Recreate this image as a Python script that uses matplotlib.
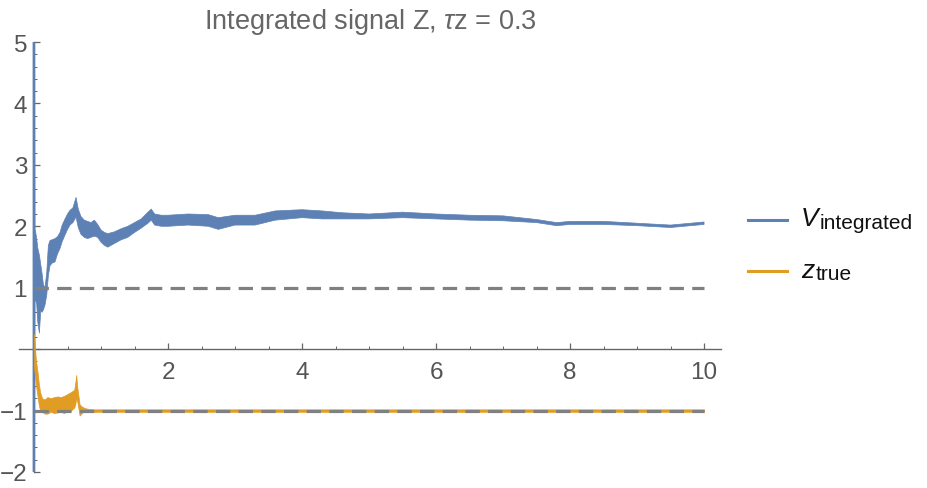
import matplotlib
matplotlib.use("Agg")
import matplotlib.pyplot as plt
from matplotlib.ticker import MultipleLocator, FuncFormatter
from matplotlib.lines import Line2D

plt.rcParams['font.family'] = ['Liberation Sans', 'DejaVu Sans']
plt.rcParams['mathtext.fontset'] = 'custom'
plt.rcParams['mathtext.rm'] = 'Liberation Sans'
plt.rcParams['mathtext.it'] = 'Liberation Sans:italic'

# blue band: V integrated (upper / lower edge of the noisy trace)
blue_t = [-0.016, 0.01, 0.015, 0.025, 0.04, 0.055, 0.08, 0.1, 0.12, 0.14, 0.164,
          0.19, 0.214, 0.239, 0.27, 0.313, 0.35, 0.388, 0.42, 0.463, 0.5, 0.537,
          0.58, 0.627, 0.66, 0.7, 0.75, 0.8, 0.85, 0.9, 0.95, 1.0, 1.05, 1.1,
          1.2, 1.3, 1.4, 1.5, 1.6, 1.7, 1.75, 1.8, 1.9, 2.0, 2.3, 2.6, 2.75, 3.0,
          3.3, 3.6, 4.0, 4.3, 4.6, 5.0, 5.5, 6.0, 6.5, 7.0, 7.5, 7.8, 8.0, 8.5,
          9.0, 9.5, 10.0]
blue_hi = [5.5, 5.5, 1.95, 1.9, 1.8, 1.65, 1.53, 1.38, 1.23, 1.05, 1.0,
           1.25, 1.69, 1.77, 1.78, 1.8, 1.83, 1.9, 2.02, 2.12, 2.2, 2.26,
           2.3, 2.47, 2.28, 2.16, 2.1, 2.08, 2.06, 2.1, 2.03, 1.94, 1.9, 1.88,
           1.91, 1.96, 2.0, 2.06, 2.12, 2.23, 2.28, 2.2, 2.18, 2.18, 2.2, 2.19, 2.14, 2.18,
           2.18, 2.25, 2.27, 2.25, 2.22, 2.2, 2.23, 2.2, 2.18, 2.17, 2.11, 2.06, 2.08, 2.08,
           2.05, 2.02, 2.07]
blue_lo = [-2.5, -2.5, 0.88, 0.8, 0.73, 0.45, 0.26, 0.62, 0.6, 0.64, 0.72,
           0.88, 1.2, 1.36, 1.4, 1.42, 1.55, 1.64, 1.75, 1.86, 1.95, 2.02,
           2.06, 2.15, 1.98, 1.87, 1.82, 1.8, 1.82, 1.84, 1.82, 1.74, 1.69, 1.66,
           1.72, 1.78, 1.82, 1.9, 1.97, 2.05, 2.1, 2.02, 2.0, 2.0, 2.02, 2.0, 1.95, 2.02,
           2.02, 2.1, 2.14, 2.12, 2.12, 2.12, 2.14, 2.12, 2.1, 2.09, 2.06, 2.01, 2.03, 2.03,
           2.01, 1.98, 2.03]

# orange band: z true
orange_t = [0.0, 0.015, 0.03, 0.05, 0.07, 0.09, 0.12, 0.16, 0.2, 0.25, 0.3, 0.35,
            0.4, 0.45, 0.5, 0.55, 0.6, 0.615, 0.63, 0.645, 0.68, 0.72, 0.76, 0.8,
            0.9, 1.0, 10.0]
orange_hi = [0.25, 0.0, -0.2, -0.35, -0.55, -0.7, -0.8, -0.82, -0.78, -0.8, -0.78, -0.77,
             -0.78, -0.76, -0.73, -0.7, -0.66, -0.55, -0.42, -0.62, -0.9, -0.94, -0.96, -0.97,
             -0.98, -0.98, -0.98]
orange_lo = [-0.3, -0.45, -0.6, -0.75, -0.9, -1.0, -1.02, -1.05, -1.05, -1.02, -1.04, -1.03,
             -1.02, -1.04, -1.0, -1.0, -0.95, -0.9, -0.8, -0.85, -1.08, -1.03, -1.02, -1.02,
             -1.02, -1.02, -1.02]

ref_levels = [1, -1]
ref_span = [0, 10]

blue = '#5E81B5'
orange = '#E19C24'
grey = '#666666'

fig = plt.figure(figsize=(9.27, 4.89), dpi=100)
ax = fig.add_axes([19.3 / 927, 16 / 489, 701.5 / 927, 430 / 489])

ax.fill_between(blue_t, blue_lo, blue_hi, color=blue, lw=0.5, zorder=3)
ax.fill_between(orange_t, orange_lo, orange_hi, color=orange, lw=0.5, zorder=3.5)
for lev in ref_levels:
    ax.plot(ref_span, [lev, lev], color='#808080', lw=2.3, dashes=(4.5, 2.6), zorder=4)

ax.set_xlim(-0.22, 10.25)
ax.set_ylim(-2, 5)

ax.spines['left'].set_position(('data', 0))
ax.spines['bottom'].set_position(('data', 0))
ax.spines['right'].set_visible(False)
ax.spines['top'].set_visible(False)
for s in ('left', 'bottom'):
    ax.spines[s].set_color(grey)
    ax.spines[s].set_linewidth(1.0)

ax.xaxis.set_major_locator(MultipleLocator(2))
ax.xaxis.set_minor_locator(MultipleLocator(0.5))
ax.yaxis.set_major_locator(MultipleLocator(1))
ax.yaxis.set_minor_locator(MultipleLocator(0.2))
hide_zero = FuncFormatter(lambda v, p: '' if abs(v) < 1e-9 else ('%d' % v).replace('-', '\u2212'))
ax.xaxis.set_major_formatter(hide_zero)
ax.yaxis.set_major_formatter(hide_zero)
ax.tick_params(which='both', direction='in', colors=grey, labelcolor='#555555', labelsize=17.5)
ax.tick_params(which='major', length=4.5, width=0.9)
ax.tick_params(which='minor', length=2.5, width=0.7)
ax.tick_params(axis='x', pad=8.5)
ax.tick_params(axis='y', pad=5)

ax.set_title(r'Integrated signal Z, $\tau$z = 0.3', color='#666666', fontsize=19.5, pad=10)

# legend, drawn by hand so the subscripts keep Mathematica-like proportions
entries = [(blue, 'V', 'integrated', 221), (orange, 'z', 'true', 272)]
for col, main, sub, ypix in entries:
    yf = 1 - ypix / 489
    fig.add_artist(Line2D([748 / 927, 787 / 927], [yf, yf], color=col, lw=2.2))
    t = fig.text(801 / 927, yf + 4 / 489, main, fontsize=19, style='italic', color='#111111',
                 va='center_baseline')
    ax.annotate(sub, xy=(1, 0), xycoords=t, xytext=(1, -1), textcoords='offset points',
                fontsize=15, color='#111111', va='bottom', ha='left', annotation_clip=False)

fig.savefig('out.png', dpi=100)
